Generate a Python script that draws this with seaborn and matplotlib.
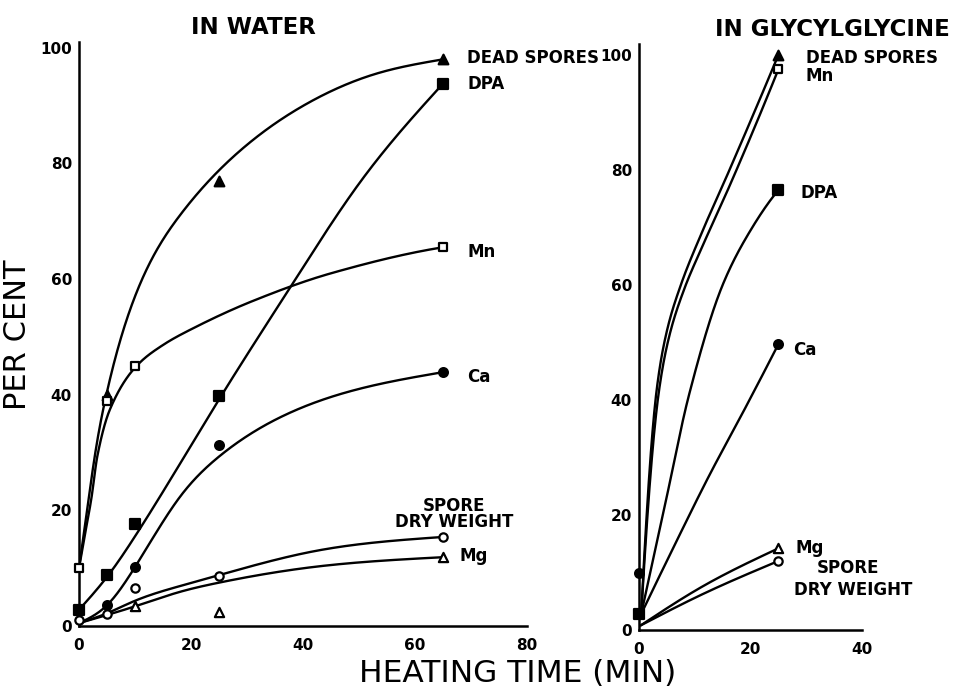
import numpy as np
import pandas as pd
import seaborn as sns
import matplotlib
matplotlib.use("Agg")
import matplotlib.pyplot as plt

# ---------------- measured points: heating in water ----------------
w_dead_t = [5, 25, 65]
w_dead_y = [40, 77, 98]
w_dpa_t = [0, 5, 10, 25, 65]
w_dpa_y = [2.8, 8.8, 17.6, 39.8, 93.8]
w_mn_t = [0, 5, 10, 65]
w_mn_y = [10, 38.9, 45, 65.5]
w_ca_t = [5, 10, 25, 65]
w_ca_y = [3.6, 10.2, 31.3, 43.9]
w_sdw_t = [0, 5, 10, 25, 65]
w_sdw_y = [1, 2.1, 6.6, 8.7, 15.4]
w_mg_t = [10, 25, 65]
w_mg_y = [3.5, 2.4, 11.9]

# knots along each hand-drawn smooth curve
w_dead_fit_t = [0, 1.5, 3, 5, 10, 18, 29, 41, 53, 65]
w_dead_fit_y = [10, 20.5, 30.5, 40.5, 57, 71, 82.4, 90.5, 95.5, 98]
w_mn_fit_t = [0, 1, 2.2, 3.3, 5.5, 10.3, 15, 20.4, 31, 45, 65]
w_mn_fit_y = [10, 15.5, 22, 29.5, 37.4, 45, 48.6, 51.5, 56.2, 61, 65.5]
w_dpa_fit_t = [0, 5.4, 10, 25.4, 38, 50, 65]
w_dpa_fit_y = [2.8, 9, 15.5, 39.8, 59, 76.5, 93.8]
w_ca_fit_t = [0, 5, 10, 14, 18, 25, 37.7, 50, 65]
w_ca_fit_y = [0.5, 3.6, 10.2, 16.5, 22.3, 29.3, 36.9, 41, 43.9]
w_sdw_fit_t = [0, 5, 9.6, 18, 25, 41.8, 65]
w_sdw_fit_y = [0.5, 2.2, 4.2, 6.9, 8.8, 12.9, 15.4]
w_mg_fit_t = [0, 10, 18, 25, 41.8, 65]
w_mg_fit_y = [0.5, 3.4, 5.9, 7.5, 10.2, 11.9]

# ---------------- measured points: heating in glycylglycine ----------------
g_dead_t = [25]
g_dead_y = [100]
g_mn_t = [25]
g_mn_y = [97.5]
g_dpa_t = [0, 25]
g_dpa_y = [2.8, 76.5]
g_ca_t = [0, 25]
g_ca_y = [10, 49.7]
g_mg_t = [25]
g_mg_y = [14.2]
g_sdw_t = [25]
g_sdw_y = [12]

g_dead_fit_t = [0.4, 3.2, 5, 7.5, 11, 16, 25]
g_dead_fit_y = [2.8, 42, 52, 60, 68.5, 79.5, 100]
g_mn_fit_t = [0.4, 3.5, 5.4, 8, 11.5, 16.5, 25]
g_mn_fit_y = [2.8, 41, 51, 59, 67, 77.8, 97.5]
g_dpa_fit_t = [0.4, 4.5, 9, 15, 20, 25]
g_dpa_fit_y = [2.8, 21, 41, 60, 69.5, 76.5]
g_ca_fit_t = [0.4, 6, 12.4, 19, 25]
g_ca_fit_y = [2.8, 14, 26.5, 38.5, 49.7]
g_mg_fit_t = [0.3, 10.9, 25]
g_mg_fit_y = [0.8, 7.3, 14.2]
g_sdw_fit_t = [0.3, 10.9, 25]
g_sdw_fit_y = [0.8, 6, 12]


def pchip(x, y, xs):
    """Monotone piecewise-cubic Hermite curve through the knots."""
    x = np.asarray(x, float)
    y = np.asarray(y, float)
    h = np.diff(x)
    d = np.diff(y) / h
    n = len(x)
    m = np.zeros(n)
    if n == 2:
        m[:] = d[0]
    else:
        for k in range(1, n - 1):
            if d[k - 1] * d[k] <= 0:
                m[k] = 0.0
            else:
                w1 = 2 * h[k] + h[k - 1]
                w2 = h[k] + 2 * h[k - 1]
                m[k] = (w1 + w2) / (w1 / d[k - 1] + w2 / d[k])

        def edge(h0, h1, d0, d1):
            v = ((2 * h0 + h1) * d0 - h0 * d1) / (h0 + h1)
            if np.sign(v) != np.sign(d0):
                v = 0.0
            elif np.sign(d0) != np.sign(d1) and abs(v) > abs(3 * d0):
                v = 3 * d0
            return v

        m[0] = edge(h[0], h[1], d[0], d[1])
        m[-1] = edge(h[-1], h[-2], d[-1], d[-2])
    idx = np.clip(np.searchsorted(x, xs) - 1, 0, n - 2)
    t = (xs - x[idx]) / h[idx]
    h00 = 2 * t**3 - 3 * t**2 + 1
    h10 = t**3 - 2 * t**2 + t
    h01 = -2 * t**3 + 3 * t**2
    h11 = t**3 - t**2
    return (h00 * y[idx] + h10 * h[idx] * m[idx]
            + h01 * y[idx + 1] + h11 * h[idx] * m[idx + 1])


def nspline(x, y, xs):
    """Natural cubic spline through the knots."""
    x = np.asarray(x, float)
    y = np.asarray(y, float)
    n = len(x)
    h = np.diff(x)
    A = np.zeros((n, n))
    r = np.zeros(n)
    A[0, 0] = A[-1, -1] = 1.0
    for i in range(1, n - 1):
        A[i, i - 1] = h[i - 1]
        A[i, i] = 2 * (h[i - 1] + h[i])
        A[i, i + 1] = h[i]
        r[i] = 6 * ((y[i + 1] - y[i]) / h[i] - (y[i] - y[i - 1]) / h[i - 1])
    M = np.linalg.solve(A, r)
    idx = np.clip(np.searchsorted(x, xs) - 1, 0, n - 2)
    hh = h[idx]
    a = (x[idx + 1] - xs) / hh
    b = (xs - x[idx]) / hh
    return (a * y[idx] + b * y[idx + 1]
            + ((a**3 - a) * M[idx] + (b**3 - b) * M[idx + 1]) * hh**2 / 6)


def curve(ax, t, y, method=nspline):
    xs = np.linspace(t[0], t[-1], 400)
    df = pd.DataFrame({"t": xs, "v": method(t, y, xs)})
    sns.lineplot(data=df, x="t", y="v", color="black", lw=1.7,
                 estimator=None, sort=False, ax=ax, zorder=2)


def points(ax, t, y, marker, filled, size=48):
    df = pd.DataFrame({"t": t, "v": y})
    sns.scatterplot(data=df, x="t", y="v", marker=marker, s=size,
                    color="black" if filled else "white",
                    edgecolor="black", linewidth=1.6,
                    ax=ax, zorder=3, clip_on=False)


sns.set_style("white")
plt.rcParams["font.family"] = ["DejaVu Sans"]
plt.rcParams["text.color"] = "black"
plt.rcParams["axes.labelcolor"] = "black"

fig = plt.figure(figsize=(9.67, 6.9), dpi=100)
ax1 = fig.add_axes([79 / 967, 1 - 626 / 690, (527 - 79) / 967, 584 / 690])
ax2 = fig.add_axes([639 / 967, 1 - 630 / 690, (862 - 639) / 967, 586.5 / 690])

# ---- left panel: in water ----
curve(ax1, w_dead_fit_t, w_dead_fit_y)
curve(ax1, w_mn_fit_t, w_mn_fit_y, pchip)
curve(ax1, w_dpa_fit_t, w_dpa_fit_y)
curve(ax1, w_ca_fit_t, w_ca_fit_y)
curve(ax1, w_sdw_fit_t, w_sdw_fit_y)
curve(ax1, w_mg_fit_t, w_mg_fit_y)
points(ax1, w_dead_t, w_dead_y, "^", True)
points(ax1, w_dpa_t, w_dpa_y, "s", True)
points(ax1, w_mn_t, w_mn_y, "s", False, 40)
points(ax1, w_ca_t, w_ca_y, "o", True, 40)
points(ax1, w_sdw_t, w_sdw_y, "o", False, 36)
points(ax1, w_mg_t, w_mg_y, "^", False, 44)

ax1.set_xlim(0, 80)
ax1.set_ylim(0, 101)
ax1.set_xticks([0, 20, 40, 60, 80])
ax1.set_yticks([0, 20, 40, 60, 80, 100])

lab = dict(fontsize=12, fontweight="bold", va="center", ha="left",
           clip_on=False, color="black")
ax1.text(69.3, 98.3, "DEAD SPORES", **lab)
ax1.text(69.3, 93.8, "DPA", **lab)
ax1.text(69.3, 64.7, "Mn", **lab)
ax1.text(69.3, 43.1, "Ca", **lab)
ax1.text(67, 20.8, "SPORE", **dict(lab, ha="center"))
ax1.text(67, 18.0, "DRY WEIGHT", **dict(lab, ha="center"))
ax1.text(68, 12.1, "Mg", **lab)

# ---- right panel: in glycylglycine ----
curve(ax2, g_dead_fit_t, g_dead_fit_y, pchip)
curve(ax2, g_mn_fit_t, g_mn_fit_y, pchip)
curve(ax2, g_dpa_fit_t, g_dpa_fit_y, pchip)
curve(ax2, g_ca_fit_t, g_ca_fit_y, pchip)
curve(ax2, g_mg_fit_t, g_mg_fit_y)
curve(ax2, g_sdw_fit_t, g_sdw_fit_y)
points(ax2, g_dead_t, g_dead_y, "^", True)
points(ax2, g_mn_t, g_mn_y, "s", False, 40)
points(ax2, g_dpa_t, g_dpa_y, "s", True)
points(ax2, g_ca_t, g_ca_y, "o", True, 40)
points(ax2, g_mg_t, g_mg_y, "^", False, 44)
points(ax2, g_sdw_t, g_sdw_y, "o", False, 36)

ax2.set_xlim(0, 40)
ax2.set_ylim(0, 102)
ax2.set_xticks([0, 20, 40])
ax2.set_yticks([0, 20, 40, 60, 80, 100])

ax2.text(29.9, 99.5, "DEAD SPORES", **lab)
ax2.text(29.9, 96.3, "Mn", **lab)
ax2.text(28.9, 76.0, "DPA", **lab)
ax2.text(27.6, 48.7, "Ca", **lab)
ax2.text(28.0, 14.3, "Mg", **lab)
ax2.text(37.5, 10.8, "SPORE", **dict(lab, ha="center"))
ax2.text(38.5, 7.0, "DRY WEIGHT", **dict(lab, ha="center"))

for ax in (ax1, ax2):
    ax.set_xlabel("")
    ax.set_ylabel("")
    sns.despine(ax=ax)
    for side in ("left", "bottom"):
        ax.spines[side].set_linewidth(1.8)
        ax.spines[side].set_color("black")
    ax.tick_params(length=0, labelsize=11, colors="black")
    ax.tick_params(axis="x", pad=9)
    ax.tick_params(axis="y", pad=5)
    for t in ax.get_xticklabels() + ax.get_yticklabels():
        t.set_fontweight("bold")
    ax.set_facecolor("white")

fig.text(253 / 967, 1 - 28 / 690, "IN WATER", fontsize=16.5,
         fontweight="bold", ha="center", va="center")
fig.text(832 / 967, 1 - 30 / 690, "IN GLYCYLGLYCINE", fontsize=16.5,
         fontweight="bold", ha="center", va="center")
fig.text(18 / 967, 1 - 335 / 690, "PER CENT", fontsize=22, rotation=90,
         ha="center", va="center")
fig.text(518 / 967, 1 - 674 / 690, "HEATING TIME (MIN)", fontsize=22.5,
         ha="center", va="center")

fig.savefig("out.png", dpi=100, facecolor="white")
